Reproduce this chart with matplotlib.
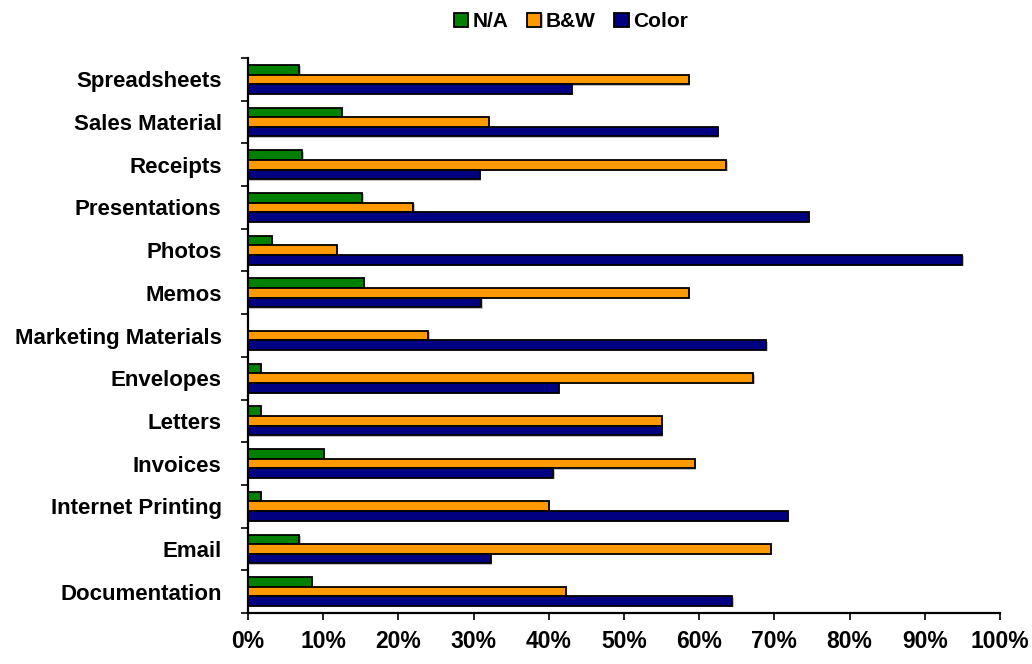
import numpy as np
import matplotlib.pyplot as plt
import matplotlib.patheffects as pe

plt.rcParams['font.family'] = ['Liberation Sans', 'DejaVu Sans']
plt.rcParams['font.weight'] = 'bold'

# listed bottom to top
categories = ['Documentation', 'Email', 'Internet Printing', 'Invoices', 'Letters',
              'Envelopes', 'Marketing Materials', 'Memos', 'Photos', 'Presentations',
              'Receipts', 'Sales Material', 'Spreadsheets']

na_pct = [8.5, 6.8, 1.7, 10.1, 1.7, 1.7, 0.0, 15.4, 3.2, 15.2, 7.2, 12.5, 6.8]
bw_pct = [42.3, 69.5, 40.0, 59.4, 55.0, 67.2, 24.0, 58.6, 11.8, 22.0, 63.6, 32.0, 58.6]
color_pct = [64.4, 32.3, 71.8, 40.6, 55.0, 41.3, 68.9, 31.0, 95.0, 74.6, 30.8, 62.5, 43.1]

series = [('N/A', na_pct, '#008000'),
          ('B&W', bw_pct, '#FF9900'),
          ('Color', color_pct, '#000080')]

fig = plt.figure(figsize=(10.32, 6.64), dpi=100)
ax = fig.add_axes([0.2403, 0.0768, 0.7287, 0.8358])

y = np.arange(len(categories))
h = 0.225
shadow = [pe.SimplePatchShadow(offset=(1, -1), shadow_rgbFace='#999999', alpha=0.6), pe.Normal()]

for k, (name, vals, col) in enumerate(series):
    vals = np.array(vals) / 100.0
    bars = ax.barh(y + (1 - k) * h, vals, height=h, color=col,
                   edgecolor='black', linewidth=1.3, label=name, zorder=3)
    for b, v in zip(bars, vals):
        b.set_path_effects(shadow)
        if v == 0:
            b.set_visible(False)

ax.set_xlim(0, 1)
ax.set_ylim(-0.5, len(categories) - 0.5)

ax.set_xticks(np.arange(0, 1.01, 0.1))
ax.set_xticklabels(['%d%%' % v for v in range(0, 101, 10)], fontsize=16.5, fontweight='bold')
ax.tick_params(axis='x', length=5, width=1.2, direction='out', pad=7)

ax.set_yticks(y)
ax.set_yticklabels(categories, fontsize=16, fontweight='bold')
ax.set_yticks(np.arange(-0.5, len(categories), 1.0), minor=True)
ax.tick_params(axis='y', which='major', length=0, pad=19)
ax.tick_params(axis='y', which='minor', length=5, width=1.2, direction='out')

for s in ['top', 'right']:
    ax.spines[s].set_visible(False)
for s in ['left', 'bottom']:
    ax.spines[s].set_linewidth(1.6)

fig.legend(loc='upper center', bbox_to_anchor=(0.553, 1.01), ncol=3, frameon=False,
           prop={'weight': 'bold', 'size': 15}, handlelength=0.7, handleheight=0.7,
           handletextpad=0.2, columnspacing=0.9)

fig.savefig('out.png', dpi=100)
